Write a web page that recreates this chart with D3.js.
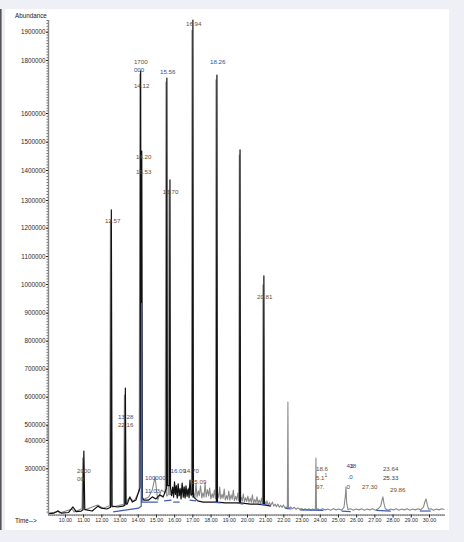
<!DOCTYPE html>
<html><head><meta charset="utf-8">
<script src="https://cdn.jsdelivr.net/npm/d3@7"></script>
<style>html,body{margin:0;padding:0;background:#eef0f5;} svg{display:block;}</style>
</head><body>
<svg id="chart" width="464" height="542"></svg>
<script>
// ---------------- data ----------------
const xTickValues = [10,11,12,13,14,15,16,17,18,19,20,21,22,23,24,25,26,27,28,29,30];
const yTickValues = [1900000,1800000,1600000,1500000,1400000,1300000,1200000,1100000,1000000,900000,800000,700000,600000,500000,400000,300000];

// main chromatogram (black)
const blackTrace = [
[9.07,143000],[9.40,145000],[9.62,152000],[9.80,145000],[10.20,147000],[10.44,166000],[10.62,150000],
[10.90,152000],[10.99,156000],[11.04,361000],[11.09,158000],[11.18,156000],[11.50,152000],[11.81,169000],
[12.00,162000],[12.30,159000],[12.51,165000],[12.55,1264000],[12.59,169000],[12.90,166000],[13.20,169000],
[13.29,172000],[13.32,631000],[13.36,176000],[13.42,176000],[13.57,201000],[13.70,183000],[13.90,190000],
[14.08,225000],[14.13,235000],[14.16,1758000],[14.19,400000],[14.22,1467000],[14.25,200000],[14.33,190000],
[14.60,190000],[14.80,201000],[15.00,194000],[15.20,208000],[15.40,201000],[15.57,230000],[15.60,1732000],
[15.63,240000],[15.74,240000],[15.77,1367000],[15.80,232000],[15.86,205000],[15.92,235000],[15.97,200000],
[16.02,253000],[16.07,210000],[16.12,240000],[16.17,197000],[16.22,246000],[16.28,205000],[16.33,230000],
[16.38,194000],[16.44,249000],[16.50,200000],[16.55,236000],[16.60,197000],[16.65,239000],[16.71,203000],
[16.77,228000],[16.82,198000],[16.87,259000],[16.93,208000],[17.00,210000],[17.03,1940000],[17.06,201000],
[17.30,187000],[17.60,183000],[18.00,183000],[18.32,183000],[18.35,1743000],[18.38,183000],[18.80,180000],
[19.20,180000],[19.59,180000],[19.62,1471000],[19.65,180000],[20.20,176000],[20.60,176000],[20.90,173000],
[20.93,1029000],[20.96,173000],[21.30,169000]
];

// second chromatogram (grey)
const grayTrace = [
[9.07,143000],[9.55,149000],[9.60,154000],[9.70,145000],[10.40,159000],[10.50,149000],[10.94,160000],
[10.98,336000],[11.03,158000],[11.10,156000],[11.80,173000],[12.10,162000],[12.46,170000],[12.50,1228000],
[12.54,172000],[12.60,166000],[13.23,175000],[13.27,606000],[13.31,176000],[13.52,197000],[13.80,187000],
[14.08,220000],[14.12,1747000],[14.17,500000],[14.21,1435000],[14.26,190000],[14.60,201000],[14.80,225000],
[14.95,270000],[15.10,190000],[15.30,225000],[15.51,215000],[15.55,1717000],[15.59,204000],[15.68,210000],
[15.72,1333000],[15.76,208000],[16.00,218000],[16.20,201000],[16.40,228000],[16.60,201000],[16.80,232000],
[16.95,205000],[16.98,1906000],[17.01,200000],[17.08,215000],[17.14,198000],[17.20,246000],[17.26,200000],
[17.33,222000],[17.38,205000],[17.45,239000],[17.52,197000],[17.58,215000],[17.64,200000],[17.70,249000],
[17.76,201000],[17.83,226000],[17.90,204000],[17.95,232000],[18.02,194000],[18.09,212000],[18.15,198000],
[18.21,225000],[18.27,195000],[18.30,1725000],[18.33,194000],[18.40,212000],[18.45,198000],[18.50,235000],
[18.56,194000],[18.63,210000],[18.69,196000],[18.75,228000],[18.81,190000],[18.88,205000],[18.94,192000],
[19.00,221000],[19.06,190000],[19.13,208000],[19.19,193000],[19.25,225000],[19.31,188000],[19.38,203000],
[19.44,190000],[19.50,214000],[19.55,188000],[19.58,1453000],[19.61,187000],[19.68,200000],[19.74,186000],
[19.80,211000],[19.86,184000],[19.93,198000],[19.99,185000],[20.05,204000],[20.11,183000],[20.18,196000],
[20.24,182000],[20.30,208000],[20.36,180000],[20.43,192000],[20.49,181000],[20.55,201000],[20.61,179000],
[20.68,190000],[20.74,178000],[20.80,197000],[20.85,177000],[20.88,997000],[20.91,176000],[20.98,186000],
[21.04,174000],[21.10,187000],[21.16,172000],[21.24,181000],[21.30,170000],[21.40,183000],[21.47,169000],
[21.55,176000],[21.62,167000],[21.70,176000],[21.78,165000],[21.85,172000],[21.93,164000],[22.00,173000],
[22.08,163000],[22.15,166000],[22.22,162000],[22.25,581000],[22.28,162000],[22.40,166000],[22.50,160000],
[22.60,165000],[22.70,158000],[22.80,163000],[22.90,158000],[23.00,161000],[23.10,155000],[23.20,160000],
[23.30,156000],[23.40,160000],[23.50,155000],[23.60,159000],[23.70,157000],[23.76,160000],[23.79,336000],
[23.82,156000],[23.90,160000],[24.00,155000],[24.15,160000],[24.30,156000],[24.45,159000],[24.60,155000],
[24.75,160000],[24.90,156000],[25.05,159000],[25.20,155000],[25.33,165000],[25.40,200000],[25.44,235000],
[25.48,180000],[25.55,157000],[25.70,160000],[25.85,155000],[26.00,159000],[26.15,156000],[26.30,160000],
[26.45,155000],[26.60,159000],[26.75,156000],[26.90,160000],[27.05,155000],[27.20,159000],[27.35,170000],
[27.42,190000],[27.47,201000],[27.52,180000],[27.60,160000],[27.75,155000],[27.90,159000],[28.05,156000],
[28.20,160000],[28.35,155000],[28.50,159000],[28.65,156000],[28.80,160000],[28.95,155000],[29.10,159000],
[29.25,156000],[29.40,160000],[29.55,156000],[29.70,166000],[29.78,185000],[29.84,194000],[29.90,175000],
[29.98,158000],[30.10,160000],[30.25,155000],[30.40,159000],[30.55,156000],[30.70,160000],[30.85,157000]
];

// integration baselines (blue)
const blueSegments = [
[[12.65,149000],[14.05,162000],[14.19,169000],[14.21,934000],[14.23,183000],[15.10,183000]],
[[15.45,187000],[15.85,190000]],
[[15.95,183000],[16.30,183000]],
[[16.85,190000],[17.20,187000]],
[[18.15,183000],[18.55,180000]],
[[19.45,180000],[19.80,176000]],
[[20.75,176000],[21.10,173000]],
[[22.10,161000],[22.45,159000]],
[[22.90,156000],[24.20,154000]],
[[25.20,152000],[25.70,150000]],
[[27.10,154000],[27.90,152000]],
[[29.50,152000],[30.10,152000]]
];

// peak annotations: text, time, abundance, tint
const labelTexts = ["1700","000","14.12","15.56","16.94","18.26","14.20","15.53","12.57","15.70","20.81",
  "13.28","22.16","2000","00","100000","11.03","16.09","14.70","15.09","18.6","5.1","1","97.",
  "43","18",".0","0","27.30","23.64","25.33","29.86"];
const labelTimes = [13.79,13.79,13.79,15.22,16.65,17.97,13.90,13.90,12.20,15.38,20.55,
  12.91,12.91,10.66,10.66,14.40,14.40,15.80,16.51,16.92,23.79,23.79,24.26,23.79,
  25.47,25.63,25.52,25.47,26.32,27.47,27.47,27.86];
const labelAbund = [1785000,1754700,1694300,1747200,1919500,1785000,1438900,1386700,1217000,1320000,947700,
  520400,485000,283700,256000,259500,214500,283700,283700,245600,290600,259500,269900,228300,
  301000,301000,262900,228300,228300,290600,259500,217900];
const labelTint = ["b","u","b","u","b","u","b","b","b","b","b",
  "u","b","b","b","u","u","u","b","r","b","b","b","b",
  "u","u","u","u","b","b","d","b"];

// ---------------- layout ----------------
const svg = d3.select("#chart");
svg.append("rect").attr("x",0).attr("y",0).attr("width",464).attr("height",542).attr("fill","#eef0f5");
svg.append("rect").attr("x",5).attr("y",9).attr("width",444).attr("height",521).attr("fill","#ffffff");
svg.append("line").attr("x1",0.8).attr("x2",0.8).attr("y1",9).attr("y2",530).attr("stroke","#555").attr("stroke-width",1.6);

const x = d3.scaleLinear().domain([9.07, 30.88]).range([48, 445]);
const yBreaks = [140000,300000,400000,500000,600000,700000,800000,900000,1000000,1100000,1200000,1300000,1400000,1500000,1600000,1800000,1900000,1940000];
const yPix = [514.5,468.3,440,424.7,396.7,368.7,340.7,312.7,284,256,227.7,200,170,141.7,113,60,31.7,20];
const y = d3.scaleLinear().domain(yBreaks).range(yPix);

const font = "Liberation Sans, Arial, Helvetica, sans-serif";
const line = d3.line().x(d => x(d[0])).y(d => y(d[1]));

// traces
svg.append("path").datum(grayTrace).attr("d", line).attr("fill","none")
  .attr("stroke","#8a8a8a").attr("stroke-width",1.1).attr("stroke-linejoin","round");
svg.append("path").datum(blackTrace).attr("d", line).attr("fill","none")
  .attr("stroke","#111").attr("stroke-width",1.2).attr("stroke-linejoin","round");
svg.selectAll("path.blue").data(blueSegments).enter().append("path").attr("class","blue")
  .attr("d", line).attr("fill","none").attr("stroke","#3f5bb5").attr("stroke-width",1.2);

// y axis
const yMinor = d3.range(150000, 1940001, 10000);
const gyMinor = svg.append("g").attr("transform","translate(48,0)")
  .call(d3.axisLeft(y).tickValues(yMinor).tickSize(1.5).tickFormat(""));
gyMinor.select(".domain").remove();
gyMinor.selectAll("line").attr("stroke","#333").attr("stroke-width",0.7);
const gy = svg.append("g").attr("transform","translate(48,0)")
  .call(d3.axisLeft(y).tickValues(yTickValues).tickSize(2).tickPadding(0.6).tickFormat(d3.format("d")));
gy.select(".domain").attr("stroke","#888").attr("stroke-width",1.4).attr("d","M0.5,20V514.5");
gy.selectAll("line").attr("stroke","#222");
gy.selectAll("text").attr("font-family",font).attr("font-size","6.3px").attr("fill","#2a2a2a");

// x axis
const xMinor = d3.range(9.1, 30.85, 0.1);
const gxMinor = svg.append("g").attr("transform","translate(0,514.5)")
  .call(d3.axisBottom(x).tickValues(xMinor).tickSize(1.6).tickFormat(""));
gxMinor.select(".domain").remove();
gxMinor.selectAll("line").attr("stroke","#444").attr("stroke-width",0.6);
const gx = svg.append("g").attr("transform","translate(0,514.5)")
  .call(d3.axisBottom(x).tickValues(xTickValues).tickSize(3).tickPadding(0.8).tickFormat(d3.format(".2f")));
gx.select(".domain").attr("stroke","#777").attr("stroke-width",1.2).attr("d","M48,0.5H445");
gx.selectAll("line").attr("stroke","#222");
gx.selectAll("text").attr("font-family",font).attr("font-size","5.3px").attr("fill","#2a2a2a");

// titles
svg.append("text").attr("x",15).attr("y",18).text("Abundance")
  .attr("font-family",font).attr("font-size","6.3px").attr("fill","#222");
svg.append("text").attr("x",15).attr("y",522.5).text("Time-->")
  .attr("font-family",font).attr("font-size","6.3px").attr("fill","#222");

// peak labels
const tintColor = {b:"#6e4a30", u:"#33508f", r:"#8a3a2a", d:"#3a3a3a"};
svg.selectAll("text.pk").data(labelTexts).enter().append("text").attr("class","pk")
  .attr("x",(d,i) => x(labelTimes[i]))
  .attr("y",(d,i) => y(labelAbund[i]))
  .text(d => d)
  .attr("font-family",font).attr("font-size",(d,i) => labelTexts[i]==="1" ? "5px" : "6.2px")
  .attr("fill",(d,i) => tintColor[labelTint[i]]);
</script>
</body></html>
